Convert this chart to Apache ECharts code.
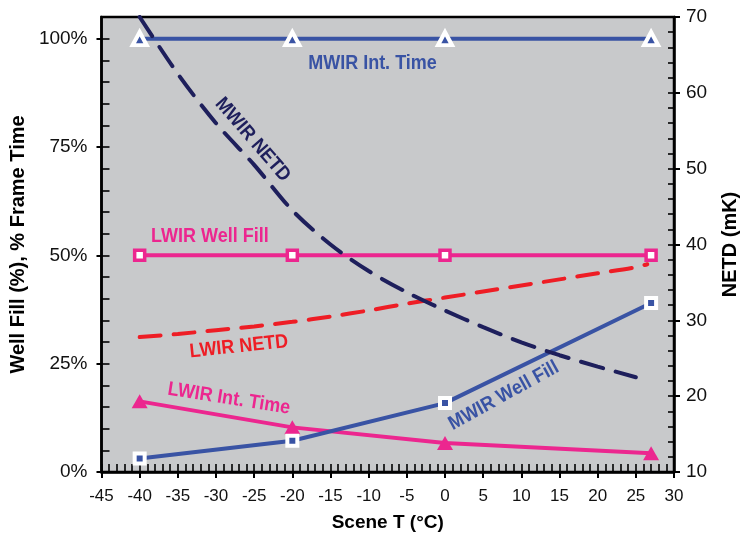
<!DOCTYPE html>
<html><head><meta charset="utf-8">
<script src="https://cdn.jsdelivr.net/npm/echarts@6/dist/echarts.min.js"></script>
<style>html,body{margin:0;padding:0;background:#fff}#c{width:749px;height:546px}</style>
</head><body><div id="c"></div>
<script>
// ---- data ----
const tempsMarked = [-40, -20, 0, 27];
const mwirIntTime = [100, 100, 100, 100];
const lwirWellFill = [50, 50, 50, 50];
const mwirWellFill = [3.1, 7.2, 15.9, 39.0];
const lwirIntTime = [16.3, 10.3, 6.7, 4.3];
const mwirNetdTemps = [-40, -35, -30, -25, -20, -15, -10, -5, 0, 5, 10, 15, 20, 25];
const mwirNetd = [70, 62.5, 56, 50.5, 44.5, 40, 36.5, 33.7, 31.3, 29.1, 27.1, 25.4, 23.9, 22.5];
const lwirNetdTemps = [-40, -35, -30, -25, -20, -15, -10, -5, 0, 5, 10, 15, 20, 25, 26.5];
const lwirNetd = [27.8, 28.2, 28.7, 29.2, 29.8, 30.5, 31.3, 32.2, 33.0, 33.8, 34.6, 35.4, 36.2, 37.0, 37.4];
const xTickLabels = [-45, -40, -35, -30, -25, -20, -15, -10, -5, 0, 5, 10, 15, 20, 25, 30];
const leftTickLabels = [0, 25, 50, 75, 100];
const rightTickLabels = [10, 20, 30, 40, 50, 60, 70];
const annotations = [
  {text: 'MWIR Int. Time', x: -9.5, y: 94.2, color: '#3953a4', rot: 0},
  {text: 'LWIR Well Fill', x: -30.8, y: 54.4, color: '#ec268f', rot: 0},
  {text: 'LWIR NETD', x: -27.0, y: 28.9, color: '#ee1d25', rot: 6},
  {text: 'LWIR Int. Time', x: -28.3, y: 16.9, color: '#ec268f', rot: -9},
  {text: 'MWIR Well Fill', x: 7.7, y: 17.6, color: '#3953a4', rot: 29},
  {text: 'MWIR NETD', x: -25.2, y: 76.7, color: '#1e1f5c', rot: -49}
];
// ---------------
const BLUE = '#3953a4', PINK = '#ec268f', RED = '#ee1d25', NAVY = '#1e1f5c';
function range(a, b, s) { const r = []; for (let v = a; v <= b + 1e-9; v += s) r.push(+v.toFixed(6)); return r; }
const pair = (xs, ys) => xs.map((x, i) => [x, ys[i]]);
const FONT = '"Liberation Sans", Arial, Helvetica, sans-serif';
const chart = echarts.init(document.getElementById('c'));
const tickStyle = {color: '#000', width: 2};
const option = {
  animation: false,
  backgroundColor: '#fff',
  grid: {left: 101, right: 75, top: 17, bottom: 74, show: true, backgroundColor: '#c8c9cb', borderColor: '#000', borderWidth: 2.5},
  xAxis: [
    {type: 'value', position: 'bottom', min: -45, max: 30, interval: 5,
     name: 'Scene T (°C)', nameLocation: 'middle', nameGap: 41,
     nameTextStyle: {fontFamily: FONT, fontWeight: 'bold', fontSize: 19, color: '#000'},
     axisLine: {show: true, onZero: false, lineStyle: {color: '#000', width: 2.5}},
     axisTick: {show: true, inside: false, length: 6, lineStyle: tickStyle, customValues: xTickLabels},
     axisLabel: {margin: 16, fontFamily: FONT, fontSize: 17, color: '#111', customValues: xTickLabels},
     splitLine: {show: false}},
    {type: 'value', position: 'bottom', min: -45, max: 30,
     axisLine: {show: false, onZero: false}, axisLabel: {show: false}, splitLine: {show: false},
     axisTick: {show: true, inside: true, length: 8, lineStyle: {color: '#000', width: 1.6}, customValues: range(-45, 30, 1)}}
  ],
  yAxis: [
    {type: 'value', position: 'left', min: 0, max: 105,
     name: 'Well Fill (%), % Frame Time', nameLocation: 'middle', nameGap: 71, nameRotate: 90,
     nameTextStyle: {fontFamily: FONT, fontWeight: 'bold', fontSize: 20, color: '#000'},
     axisLine: {show: true, onZero: false, lineStyle: {color: '#000', width: 2.5}},
     axisTick: {show: true, inside: false, length: 5, lineStyle: tickStyle, customValues: leftTickLabels},
     axisLabel: {margin: 14, fontFamily: FONT, fontSize: 19, color: '#111', customValues: leftTickLabels, formatter: v => v + '%'},
     splitLine: {show: false}},
    {type: 'value', position: 'right', min: 10, max: 70,
     name: 'NETD (mK)', nameLocation: 'middle', nameGap: 46, nameRotate: 90,
     nameTextStyle: {fontFamily: FONT, fontWeight: 'bold', fontSize: 20, color: '#000'},
     axisLine: {show: true, onZero: false, lineStyle: {color: '#000', width: 2.5}},
     axisTick: {show: true, inside: false, length: 6, lineStyle: tickStyle, customValues: rightTickLabels},
     axisLabel: {margin: 12, fontFamily: FONT, fontSize: 19, color: '#111', customValues: rightTickLabels},
     splitLine: {show: false}},
    {type: 'value', position: 'left', min: 0, max: 105,
     axisLine: {show: false, onZero: false}, axisLabel: {show: false}, splitLine: {show: false},
     axisTick: {show: true, inside: true, length: 8, lineStyle: {color: '#000', width: 1.6}, customValues: range(0, 100, 5)}},
    {type: 'value', position: 'right', min: 10, max: 70,
     axisLine: {show: false, onZero: false}, axisLabel: {show: false}, splitLine: {show: false},
     axisTick: {show: true, inside: true, length: 6, lineStyle: {color: '#000', width: 1.6}, customValues: range(10, 70, 2)}}
  ],
  series: [
    {name: 'LWIR Well Fill', type: 'line', yAxisIndex: 0, data: pair(tempsMarked, lwirWellFill),
     lineStyle: {color: PINK, width: 4}, symbol: 'rect', symbolSize: 10,
     itemStyle: {color: '#fff', borderColor: PINK, borderWidth: 3.5}, z: 3},
    {name: 'LWIR Int. Time', type: 'line', yAxisIndex: 0, data: pair(tempsMarked, lwirIntTime),
     lineStyle: {color: PINK, width: 4}, symbol: 'triangle', symbolSize: [16, 14],
     itemStyle: {color: PINK}, z: 3},
    {name: 'MWIR Int. Time', type: 'line', yAxisIndex: 0, data: pair(tempsMarked, mwirIntTime),
     lineStyle: {color: BLUE, width: 4}, symbol: 'triangle', symbolSize: [14, 13],
     itemStyle: {color: BLUE, borderColor: '#fff', borderWidth: 4}, z: 4},
    {name: 'MWIR Well Fill', type: 'line', yAxisIndex: 0, data: pair(tempsMarked, mwirWellFill),
     lineStyle: {color: BLUE, width: 4}, symbol: 'rect', symbolSize: 10,
     itemStyle: {color: BLUE, borderColor: '#fff', borderWidth: 4}, z: 4},
    {name: 'LWIR NETD', type: 'line', yAxisIndex: 1, data: pair(lwirNetdTemps, lwirNetd), smooth: 0.3,
     showSymbol: false, symbol: 'none',
     lineStyle: {color: RED, width: 4, type: [21, 13], cap: 'round'}, z: 5},
    {name: 'MWIR NETD', type: 'line', yAxisIndex: 1, data: pair(mwirNetdTemps, mwirNetd), smooth: 0.3,
     showSymbol: false, symbol: 'none',
     lineStyle: {color: NAVY, width: 4, type: [23, 13], cap: 'round'}, z: 5}
  ]
};
chart.setOption(option);
const graphics = annotations.map(a => {
  const p = chart.convertToPixel({xAxisIndex: 0, yAxisIndex: 0}, [a.x, a.y]);
  return {type: 'text', x: p[0], y: p[1], rotation: a.rot * Math.PI / 180, z: 100,
          scaleY: 1.1,
          style: {text: a.text, fill: a.color, font: 'bold 18px ' + FONT, align: 'center', verticalAlign: 'middle'}};
});
chart.setOption({graphic: graphics});
</script>
</body></html>
